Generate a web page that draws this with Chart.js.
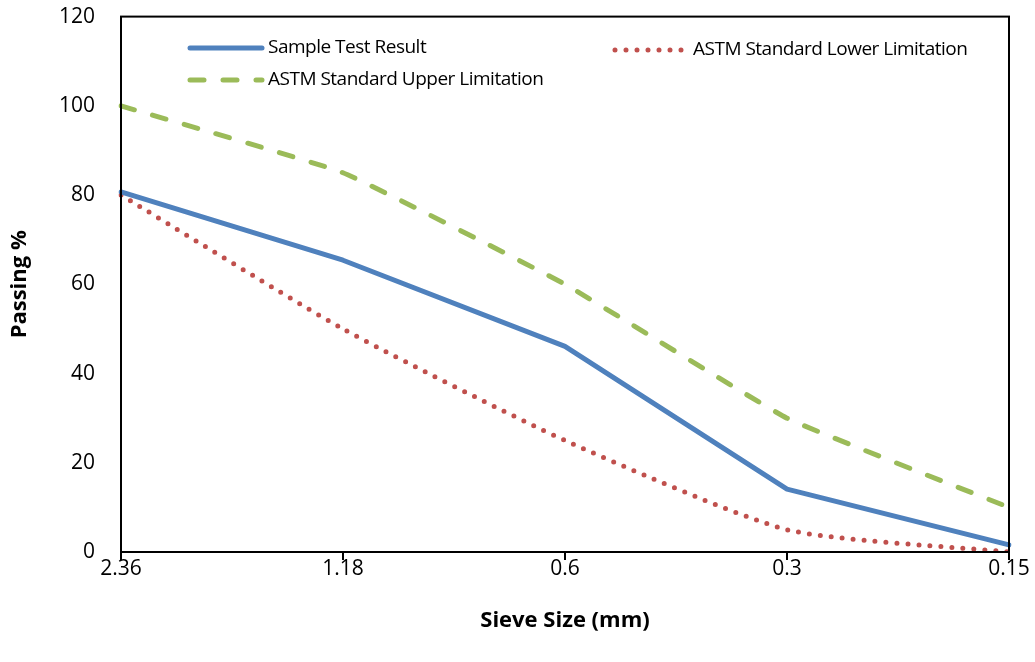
<!DOCTYPE html>
<html>
<head>
<meta charset="utf-8">
<script src="https://cdn.jsdelivr.net/npm/chart.js@4"></script>
<style>
    html, body { margin: 0; padding: 0; background: #fff; }
    #wrap { width: 1035px; height: 662px; }
</style>
</head>
<body>
<div id="wrap"><canvas id="chart" width="1035" height="662"></canvas></div>
<script>
const sieveSizes = ['2.36', '1.18', '0.6', '0.3', '0.15'];
const sampleResult = [80.7, 65.4, 46.1, 14.1, 1.6];
const upperLimit = [100, 85, 60, 30, 10];
const lowerLimit = [80, 50, 25, 5, 0];
const yTicks = [0, 20, 40, 60, 80, 100, 120];

const FONT = "'Open Sans', sans-serif";

// plot frame + hand placed legend, like the spreadsheet original
const framePlugin = {
    id: 'frame',
    afterDraw(chart) {
        const {ctx, chartArea: a} = chart;
        ctx.save();
        ctx.strokeStyle = '#000';
        ctx.lineWidth = 2;
        ctx.strokeRect(a.left, a.top, a.right - a.left, a.bottom - a.top);

        const spots = [
            {i: 0, x: 190, y: 48},
            {i: 2, x: 190, y: 80},
            {i: 1, x: 615, y: 50}
        ];
        ctx.font = "19px 'Open Sans', sans-serif";
        ctx.textBaseline = 'middle';
        spots.forEach(({i, x, y}) => {
            const ds = chart.data.datasets[i];
            ctx.beginPath();
            ctx.strokeStyle = ds.borderColor;
            ctx.lineWidth = ds.borderWidth;
            ctx.lineCap = 'round';
            ctx.setLineDash(ds.borderDash || []);
            ctx.moveTo(x, y);
            ctx.lineTo(x + 72, y);
            ctx.stroke();
            ctx.setLineDash([]);
            ctx.fillStyle = '#000';
            ctx.letterSpacing = '-0.5px';
            ctx.fillText(ds.label, x + 78, y);
        });
        ctx.restore();
    }
};

new Chart(document.getElementById('chart'), {
    type: 'line',
    data: {
        labels: sieveSizes,
        datasets: [
            {
                label: 'Sample Test Result',
                data: sampleResult,
                borderColor: '#4F81BD',
                borderWidth: 5,
                borderCapStyle: 'round',
                borderJoinStyle: 'round',
                pointRadius: 0,
                tension: 0
            },
            {
                label: 'ASTM Standard Lower Limitation',
                data: lowerLimit,
                borderColor: '#C0504D',
                borderWidth: 5,
                borderDash: [0, 11],
                borderCapStyle: 'round',
                pointRadius: 0,
                tension: 0.2
            },
            {
                label: 'ASTM Standard Upper Limitation',
                data: upperLimit,
                borderColor: '#9BBB59',
                borderWidth: 5,
                borderDash: [14, 19],
                borderCapStyle: 'round',
                pointRadius: 0,
                tension: 0.1
            }
        ]
    },
    options: {
        responsive: false,
        animation: false,
        layout: {padding: {top: 16, right: 26, left: 0, bottom: 0}},
        plugins: {
            legend: {display: false},
            tooltip: {enabled: false}
        },
        scales: {
            x: {
                offset: false,
                grid: {display: true, drawOnChartArea: false, drawTicks: true, tickLength: 8, color: '#000', lineWidth: 2},
                border: {display: true, color: '#000', width: 2},
                ticks: {color: '#000', font: {family: FONT, size: 21}, padding: -4, maxRotation: 0},
                title: {display: true, text: 'Sieve Size (mm)', color: '#000', font: {family: FONT, size: 22, weight: 'bold'}, padding: {top: 4, bottom: 28}},
                afterFit: (s) => { s.height = 110; }
            },
            y: {
                min: 0,
                max: 120,
                afterBuildTicks: (s) => { s.ticks = yTicks.map(v => ({value: v})); },
                grid: {display: true, drawOnChartArea: false, drawTicks: true, tickLength: 22, color: 'rgba(0,0,0,0)'},
                border: {display: true, color: '#000', width: 2},
                ticks: {color: '#000', font: {family: FONT, size: 21}, padding: 4},
                title: {display: true, text: 'Passing %', color: '#000', font: {family: FONT, size: 22, weight: 'bold'}, padding: {top: 7}},
                afterFit: (s) => { s.width = 121; }
            }
        }
    },
    plugins: [framePlugin]
});
</script>
</body>
</html>
